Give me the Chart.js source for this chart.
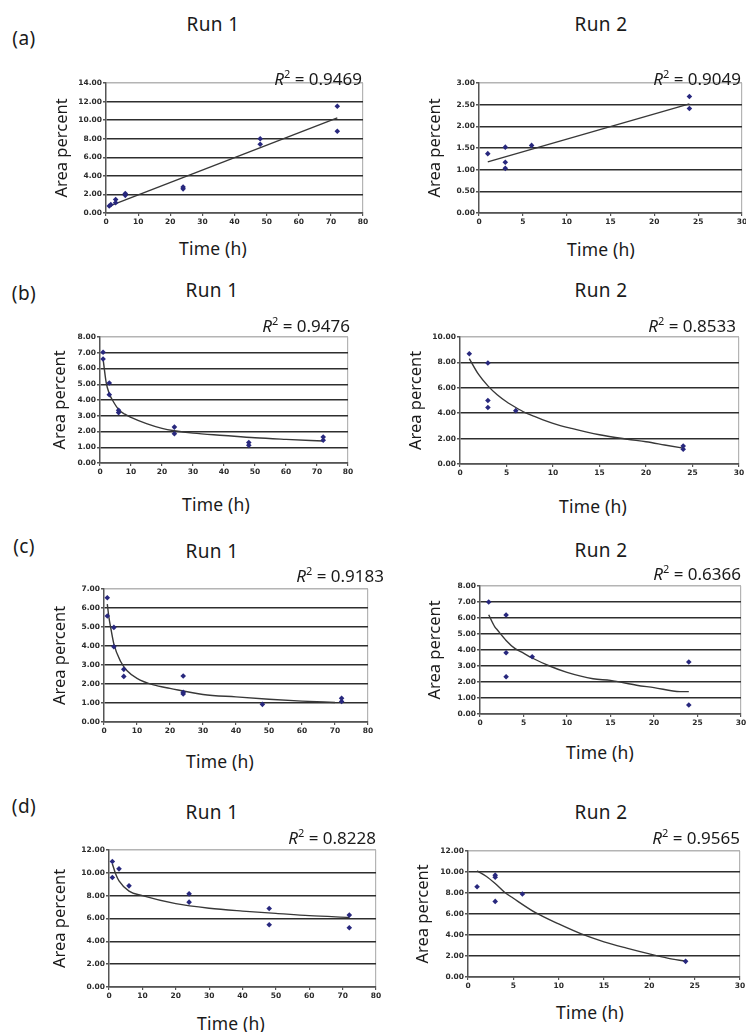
<!DOCTYPE html>
<html>
<head>
<meta charset="utf-8">
<script src="https://cdn.jsdelivr.net/npm/chart.js@4.4.1/dist/chart.umd.min.js"></script>
<style>
  html, body { margin: 0; padding: 0; background: #fff; overflow: hidden; }
  body { width: 746px; height: 1032px; position: relative; font-family: "Noto Sans", "Open Sans", sans-serif; color: #1a1a1a; }
  .txt { position: absolute; white-space: nowrap; transform: translate(-50%, -50%); font-size: 19px; line-height: 1; letter-spacing: 0.4px; }
  .r2 { position: absolute; white-space: nowrap; transform: translate(-100%, -50%); font-size: 17px; line-height: 1; }
  .r2 sup { font-size: 11px; vertical-align: 7px; line-height: 0; }
  .xt { font-size: 17.5px; letter-spacing: 0.2px; }
  .box { position: absolute; }
</style>
</head>
<body>
<script>
/* ========= DATA ========= */
const ticksTime80 = [0, 10, 20, 30, 40, 50, 60, 70, 80];
const ticksTime30 = [0, 5, 10, 15, 20, 25, 30];

// (a) Run 1
const a1Time = [1, 1.5, 3, 3, 6, 6, 24, 24, 48, 48, 72, 72];
const a1Area = [0.75, 0.9, 1.1, 1.45, 1.9, 2.1, 2.6, 2.8, 8.0, 7.4, 11.5, 8.8];
const a1FitTime = [1, 72];
const a1FitArea = [0.75, 10.25];
const a1Ticks = [0, 2, 4, 6, 8, 10, 12, 14];

// (a) Run 2
const a2Time = [1, 3, 3, 3, 6, 24, 24];
const a2Area = [1.37, 1.52, 1.17, 1.03, 1.56, 2.69, 2.41];
const a2FitTime = [1, 24];
const a2FitArea = [1.18, 2.52];
const a2Ticks = [0, 0.5, 1, 1.5, 2, 2.5, 3];

// (b) Run 1
const b1Time = [1, 1, 3, 3, 6, 6, 24, 24, 48, 48, 72, 72];
const b1Area = [7.03, 6.6, 5.08, 4.34, 3.35, 3.2, 2.28, 1.86, 1.3, 1.12, 1.65, 1.45];
const b1FitTime = [1, 2, 3, 4, 6, 8, 10, 15, 20, 24, 30, 40, 50, 60, 72];
const b1FitArea = [6.6, 5.1, 4.4, 4.0, 3.4, 3.1, 2.9, 2.5, 2.2, 2.05, 1.9, 1.75, 1.6, 1.5, 1.4];
const b1Ticks = [0, 1, 2, 3, 4, 5, 6, 7, 8];

// (b) Run 2
const b2Time = [1, 3, 3, 3, 6, 24, 24];
const b2Area = [8.68, 7.95, 5.0, 4.45, 4.2, 1.42, 1.16];
const b2FitTime = [1, 2, 3, 4, 5, 6, 7, 8, 10, 12, 15, 18, 20, 22, 24];
const b2FitArea = [8.3, 7.05, 6.15, 5.45, 4.9, 4.45, 4.05, 3.75, 3.2, 2.8, 2.3, 1.95, 1.75, 1.5, 1.25];
const b2Ticks = [0, 2, 4, 6, 8, 10];

// (c) Run 1
const c1Time = [1, 1, 3, 3, 6, 6, 24, 24, 24, 48, 72, 72];
const c1Area = [6.54, 5.58, 4.98, 3.96, 2.77, 2.4, 2.42, 1.56, 1.48, 0.93, 1.25, 1.08];
const c1FitTime = [1, 1.5, 2, 3, 5, 7, 10, 15, 20, 30, 40, 50, 60, 70];
const c1FitArea = [6.2, 5.5, 5.0, 4.1, 3.2, 2.7, 2.3, 1.95, 1.77, 1.45, 1.32, 1.2, 1.1, 1.03];
const c1Ticks = [0, 1, 2, 3, 4, 5, 6, 7];

// (c) Run 2
const c2Time = [1, 3, 3, 3, 6, 24, 24];
const c2Area = [7.0, 6.19, 3.83, 2.33, 3.58, 3.25, 0.56];
const c2FitTime = [1, 1.7, 2, 3, 4, 5, 6, 8, 10, 13, 15, 18, 20, 23, 24];
const c2FitArea = [6.2, 5.45, 5.25, 4.6, 4.1, 3.8, 3.5, 3.0, 2.6, 2.2, 2.1, 1.8, 1.65, 1.4, 1.4];
const c2Ticks = [0, 1, 2, 3, 4, 5, 6, 7, 8];

// (d) Run 1
const d1Time = [1, 1, 3, 6, 24, 24, 48, 48, 72, 72];
const d1Area = [10.99, 9.59, 10.35, 8.86, 8.16, 7.43, 6.88, 5.45, 6.3, 5.19];
const d1FitTime = [1, 2, 3, 6, 10, 20, 30, 40, 50, 60, 72];
const d1FitArea = [10.8, 9.9, 9.3, 8.4, 8.0, 7.3, 6.9, 6.65, 6.45, 6.25, 6.1];
const d1Ticks = [0, 2, 4, 6, 8, 10, 12];

// (d) Run 2
const d2Time = [1, 3, 3, 3, 6, 24];
const d2Area = [8.6, 9.7, 9.5, 7.2, 7.9, 1.49];
const d2FitTime = [1, 2, 3, 4, 5, 7.5, 10, 12.5, 15, 17.5, 20, 22, 24];
const d2FitArea = [10.1, 9.6, 8.9, 8.1, 7.5, 6.1, 5.05, 4.1, 3.35, 2.75, 2.2, 1.8, 1.5];
const d2Ticks = [0, 2, 4, 6, 8, 10, 12];

const rSquared = ["0.9469", "0.9049", "0.9476", "0.8533", "0.9183", "0.6366", "0.8228", "0.9565"];
const panelLetters = ["(a)", "(b)", "(c)", "(d)"];

/* ========= LAYOUT ========= */
// plot area edges (L,R,T,B), y-title centre (ax), text anchors
const PANELS = [
  { t: a1Time, a: a1Area, ft: a1FitTime, fa: a1FitArea, xt: ticksTime80, yt: a1Ticks, curve: false,
    L: 106, R: 363, T: 83, B: 213, ax: 62, run: "Run 1", runX: 213, runY: 24, r2X: 362, r2Y: 78, tX: 213, tY: 249 },
  { t: a2Time, a: a2Area, ft: a2FitTime, fa: a2FitArea, xt: ticksTime30, yt: a2Ticks, curve: false,
    L: 479, R: 742, T: 83, B: 213, ax: 435, run: "Run 2", runX: 601, runY: 24, r2X: 741, r2Y: 78, tX: 601, tY: 250 },
  { t: b1Time, a: b1Area, ft: b1FitTime, fa: b1FitArea, xt: ticksTime80, yt: b1Ticks, curve: true,
    L: 100, R: 348, T: 337, B: 463, ax: 60, run: "Run 1", runX: 212, runY: 290, r2X: 350, r2Y: 325, tX: 216, tY: 505 },
  { t: b2Time, a: b2Area, ft: b2FitTime, fa: b2FitArea, xt: ticksTime30, yt: b2Ticks, curve: true,
    L: 460, R: 739, T: 337, B: 464, ax: 416, run: "Run 2", runX: 601, runY: 290, r2X: 736, r2Y: 325, tX: 593, tY: 507 },
  { t: c1Time, a: c1Area, ft: c1FitTime, fa: c1FitArea, xt: ticksTime80, yt: c1Ticks, curve: true,
    L: 104, R: 368, T: 589, B: 722, ax: 60, run: "Run 1", runX: 212, runY: 551, r2X: 384, r2Y: 575, tX: 220, tY: 762 },
  { t: c2Time, a: c2Area, ft: c2FitTime, fa: c2FitArea, xt: ticksTime30, yt: c2Ticks, curve: true,
    L: 480, R: 741, T: 586, B: 714, ax: 435, run: "Run 2", runX: 601, runY: 550, r2X: 741, r2Y: 573, tX: 600, tY: 753 },
  { t: d1Time, a: d1Area, ft: d1FitTime, fa: d1FitArea, xt: ticksTime80, yt: d1Ticks, curve: true,
    L: 109, R: 376, T: 850, B: 987, ax: 60, run: "Run 1", runX: 212, runY: 812, r2X: 376, r2Y: 837, tX: 231, tY: 1024 },
  { t: d2Time, a: d2Area, ft: d2FitTime, fa: d2FitArea, xt: ticksTime30, yt: d2Ticks, curve: true,
    L: 468, R: 740, T: 851, B: 977, ax: 423, run: "Run 2", runX: 601, runY: 812, r2X: 740, r2Y: 837, tX: 590, tY: 1013 }
];
const LETTER_POS = [[24, 38], [24, 293], [24, 546], [24, 806]];

const GRID = "#2e2e2e";
const FRAME = "#b4b4b4";
const MARKER = "#28287e";
const TREND = "#383838";
const TICK_FONT = { family: "'DejaVu Sans', Verdana, sans-serif", size: 7.5, weight: "bold" };

/* ========= HELPERS ========= */
function addText(cls, x, y, html) {
  const el = document.createElement("div");
  el.className = cls;
  el.style.left = x + "px";
  el.style.top = y + "px";
  el.innerHTML = html;
  document.body.appendChild(el);
}

function toPoints(xs, ys) {
  return xs.map((x, i) => ({ x: x, y: ys[i] }));
}

/* ========= BUILD ONE PANEL ========= */
function buildPanel(p, idx) {
  const titleHalf = 9.6;           // half line height of the y title
  const x0 = Math.round(p.ax - titleHalf);
  const y0 = p.T - 8;
  const w = p.R + 10 - x0;
  const h = p.B + 16 - y0;
  const xMax = p.xt[p.xt.length - 1];
  const yMax = p.yt[p.yt.length - 1];

  const box = document.createElement("div");
  box.className = "box";
  box.style.left = x0 + "px";
  box.style.top = y0 + "px";
  box.style.width = w + "px";
  box.style.height = h + "px";
  const cv = document.createElement("canvas");
  box.appendChild(cv);
  document.body.appendChild(box);

  new Chart(cv, {
    type: "scatter",
    data: {
      datasets: [
        {
          data: toPoints(p.t, p.a),
          pointStyle: "rectRot",
          pointRadius: 2.8,
          backgroundColor: MARKER,
          borderColor: MARKER,
          borderWidth: 0,
          order: 0
        },
        {
          data: toPoints(p.ft, p.fa),
          showLine: true,
          pointRadius: 0,
          borderColor: TREND,
          borderWidth: 1.4,
          cubicInterpolationMode: p.curve ? "monotone" : "default",
          order: 1
        }
      ]
    },
    options: {
      responsive: true,
      maintainAspectRatio: false,
      animation: false,
      layout: { padding: { left: 0, top: p.T - y0, right: 10, bottom: 0 } },
      plugins: { legend: { display: false }, tooltip: { enabled: false } },
      scales: {
        x: {
          type: "linear",
          min: 0,
          max: xMax,
          afterBuildTicks: s => { s.ticks = p.xt.map(v => ({ value: v })); },
          afterFit: s => { s.height = y0 + h - p.B; },
          ticks: { font: TICK_FONT, color: "#2a2a2a", padding: 2, maxRotation: 0, autoSkip: false },
          grid: {
            color: c => (c.tick && c.tick.value === xMax ? FRAME : "rgba(0,0,0,0)"),
            tickColor: "#555",
            tickLength: 3,
            lineWidth: 1.2
          },
          border: { color: "#555", width: 1.5 }
        },
        y: {
          min: 0,
          max: yMax,
          afterBuildTicks: s => { s.ticks = p.yt.map(v => ({ value: v })); },
          afterFit: s => { s.width = p.L - x0; },
          ticks: { font: TICK_FONT, color: "#2a2a2a", padding: 1, callback: v => Number(v).toFixed(2) },
          grid: {
            color: c => (c.tick && c.tick.value === yMax ? FRAME : GRID),
            tickColor: "#555",
            tickLength: 3,
            lineWidth: 1.5
          },
          border: { color: "#555", width: 1.5 },
          title: {
            display: true,
            text: "Area percent",
            color: "#1a1a1a",
            padding: 0,
            font: { family: "'Noto Sans', 'Open Sans', sans-serif", size: 16.5 }
          }
        }
      }
    }
  });

  addText("txt", p.runX, p.runY, p.run);
  addText("r2", p.r2X, p.r2Y, "<i>R</i><sup>2</sup> = " + rSquared[idx]);
  addText("txt xt", p.tX, p.tY, "Time (h)");
}

PANELS.forEach(buildPanel);
panelLetters.forEach((s, i) => addText("txt", LETTER_POS[i][0], LETTER_POS[i][1], s));
</script>
</body>
</html>
